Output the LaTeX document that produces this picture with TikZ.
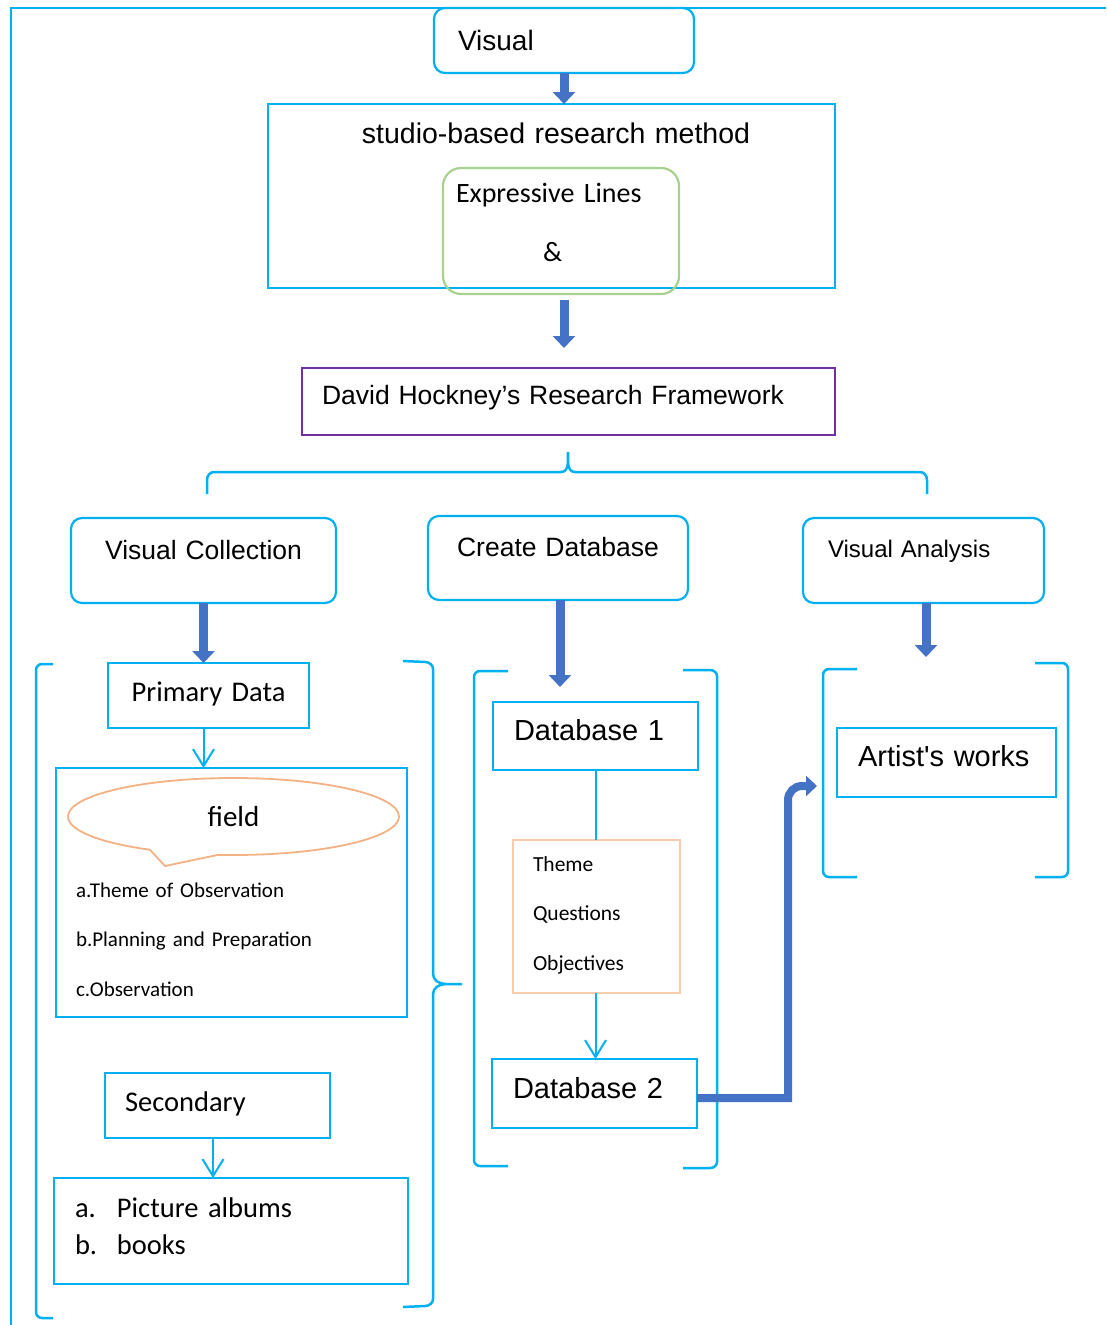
\documentclass[tikz,border=0pt]{standalone}
\usepackage{fontspec}
\setmainfont{Carlito}[WordSpace=0.85]
\newfontfamily\arialf{Liberation Sans}
\usetikzlibrary{arrows.meta,shapes.callouts,calc}
\definecolor{cy}{HTML}{00B0F0}
\definecolor{ab}{HTML}{4472C4}
\definecolor{pur}{HTML}{7030A0}
\definecolor{grn}{HTML}{A9D18E}
\definecolor{org}{HTML}{F4B183}
\definecolor{lorg}{HTML}{F8CBAD}
\begin{document}
\begin{tikzpicture}[x=1pt,y=-1pt,
  every node/.style={inner ysep=0pt, outer sep=0pt},
  rbox/.style={draw=cy, line width=2.2pt, rounded corners=11pt, anchor=north west},
  sbox/.style={draw=cy, line width=1.2pt, anchor=north west},
  tarrow/.style={draw=ab, line width=9pt, -{Triangle[width=22pt,length=12pt]}},
  tarrowb/.style={draw=ab, line width=8pt, -{Triangle[width=20pt,length=11pt]}},
  tharrow/.style={draw=cy, line width=2pt, -{Straight Barb[length=17pt,width=21pt]}},
  sline/.style={draw=cy, line width=2pt},
  brk/.style={draw=cy, line width=2.5pt},
]
\useasboundingbox (0,0) rectangle (1106,1325);
% outer frame
\draw[draw=cy, line width=2pt] (1106,8) -- (11,8) -- (11,1325);

% top
\node[rbox, inner xsep=24pt, text width=212pt, align=left, text height=42.4pt, text depth=22.6pt,
      font=\arialf\fontsize{28}{34}\selectfont] (visual) at (434,8) {Visual};
\node[draw=cy, line width=2.5pt, anchor=north west, inner xsep=10pt, text width=547pt, align=center,
      text height=39pt, text depth=145pt, font=\arialf\fontsize{28.5}{34}\selectfont] (studio) at (268,104) {\hspace*{9pt}studio-based research method};
\node[draw=grn, line width=2.2pt, rounded corners=18pt, anchor=north west, inner xsep=13pt, text width=210pt,
      align=left, text height=34pt, text depth=92pt, font=\fontsize{28}{59}\selectfont] (expr) at (443,168)
      {Expressive Lines\\\hspace*{87pt}\&};
\node[draw=pur, line width=1.3pt, anchor=north west, inner xsep=20pt, text width=493pt, align=left,
      text height=36.5pt, text depth=30.5pt, font=\arialf\fontsize{26.5}{32}\selectfont] (david) at (302,368)
      {David Hockney’s Research Framework};

\draw[tarrow] (visual.south) -- (visual.south |- studio.north);
\draw[tarrow, shorten <=12pt, shorten >=20pt] (visual.south |- studio.south) -- (visual.south |- david.north);

% top brace
\draw[brk] (207,494) -- (207,480) to[out=90,in=180] (214,472) -- (561,472) to[out=0,in=-90] (568,452)
           to[out=-90,in=180] (575,472) -- (920,472) to[out=0,in=90] (927,480) -- (927,494);

% three heads
\node[rbox, inner xsep=5pt, text width=255pt, align=center, text height=41.5pt, text depth=43.5pt,
      font=\arialf\fontsize{26.5}{32}\selectfont] (vc) at (71,518) {Visual Collection};
\node[rbox, inner xsep=5pt, text width=250pt, align=center, text height=40.5pt, text depth=43.5pt,
      font=\arialf\fontsize{26.5}{32}\selectfont] (cd) at (428,516) {Create Database};
\node[rbox, inner xsep=25pt, text width=191pt, align=left, text height=39.5pt, text depth=45.5pt,
      font=\arialf\fontsize{24}{29}\selectfont] (va) at (803,518) {Visual Analysis};

% left group
\node[sbox, inner xsep=5pt, text width=191pt, align=center, text height=38pt, text depth=27pt,
      font=\fontsize{28.5}{34}\selectfont] (primary) at (108,663) {Primary Data};
\node[sbox, inner xsep=20pt, text width=311pt, align=left, text height=129pt, text depth=120pt,
      font=\fontsize{21}{49.5}\selectfont] (field) at (56,768)
      {a.Theme of Observation\\b.Planning and Preparation\\c.Observation};
\node[ellipse callout, draw=org, line width=1.8pt, minimum width=331pt, minimum height=77pt,
      callout absolute pointer={(165,866)}, callout pointer arc=25,
      font=\fontsize{29}{34}\selectfont] (fieldlabel) at (233.5,816.5) {field};
\node[sbox, inner xsep=20pt, text width=185pt, align=left, text height=38pt, text depth=27pt,
      font=\fontsize{28.5}{34}\selectfont] (sec) at (105,1073) {Secondary};
\node[sbox, inner xsep=21pt, text width=312pt, align=left, text height=39pt, text depth=67pt,
      font=\fontsize{28.5}{37}\selectfont] (pic) at (54,1178)
      {\makebox[42pt][l]{a.}Picture albums\\\makebox[42pt][l]{b.}books};

\draw[tarrow] (vc.south) -- (vc.south |- primary.north);
\draw[tharrow] (vc.south |- primary.south) -- (vc.south |- field.north);
\draw[tharrow] ([xshift=-4.5pt]sec.south) -- ([xshift=-4.5pt]sec.south |- pic.north);

\draw[brk] (53,664) -- (42,664) to[out=180,in=90] (36,670) -- (36,1312) to[out=-90,in=180] (42,1318) -- (53,1318);
\draw[brk] (403,661) -- (425,662) to[out=0,in=90] (433,669) -- (433,974) to[out=-90,in=180] (446,984) -- (462,984)
           -- (446,984) to[out=180,in=90] (433,994) -- (433,1299) to[out=-90,in=0] (425,1306) -- (403,1307);

% middle group
\node[sbox, inner xsep=21pt, text width=163pt, align=left, text height=38.4pt, text depth=29.6pt,
      font=\arialf\fontsize{29}{34}\selectfont] (db1) at (493,702) {Database 1};
\node[draw=lorg, line width=1.2pt, anchor=north west, inner xsep=20pt, text width=127pt, align=left,
      text height=31pt, text depth=122pt, font=\fontsize{21.5}{49.5}\selectfont] (theme) at (513,840)
      {Theme\\Questions\\Objectives};
\node[sbox, inner xsep=21pt, text width=163pt, align=left, text height=39.4pt, text depth=29.6pt,
      font=\arialf\fontsize{29}{34}\selectfont] (db2) at (492,1059) {Database 2};

\draw[tarrow, shorten >=15pt] ([xshift=2pt]cd.south) -- ([xshift=2pt]cd.south |- db1.north);
\draw[sline] (db1.south) -- (db1.south |- theme.north);
\draw[tharrow] (db1.south |- theme.south) -- (db1.south |- db2.north);

\draw[brk] (508,671) -- (480,671) to[out=180,in=90] (474,677) -- (474,1160) to[out=-90,in=180] (480,1166) -- (508,1166);
\draw[brk] (683,670) -- (710,670) to[out=0,in=90] (717,676) -- (717,1162) to[out=-90,in=0] (710,1168) -- (683,1168);

% right group
\node[sbox, inner xsep=21pt, text width=177pt, align=left, text height=38.4pt, text depth=30.6pt,
      font=\arialf\fontsize{29}{34}\selectfont] (aw) at (837,728) {Artist's works};
\coordinate (vaend) at (926,657);
\draw[tarrow] ([xshift=2.5pt]va.south) -- (vaend);
\draw[brk] (857,669) -- (829,669) to[out=180,in=90] (823,675) -- (823,871) to[out=-90,in=180] (829,877) -- (857,877);
\draw[brk] (1035,663) -- (1062,663) to[out=0,in=90] (1068,669) -- (1068,871) to[out=-90,in=0] (1062,877) -- (1035,877);

% elbow arrow
\coordinate (elbowA) at (788,1098);
\coordinate (awin) at (817,786);
\draw[tarrowb] ([yshift=-4.5pt]db2.east) -- (elbowA) -- (788,800) to[out=90,in=180] (802,786) -- (awin);
\end{tikzpicture}
\end{document}
